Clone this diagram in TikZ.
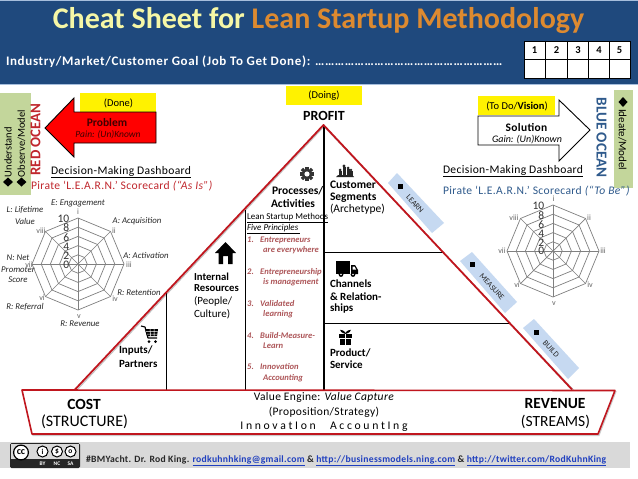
\documentclass[tikz,border=0pt]{standalone}
\usepackage{fontspec}
\setmainfont{Carlito}
\newfontfamily\spaced[LetterSpace=5]{Carlito}
\newfontfamily\wider[LetterSpace=3]{Carlito}
\newcommand{\fsz}[1]{\fontsize{#1}{#1}\selectfont}
\definecolor{hdrblue}{HTML}{1F497D}
\definecolor{hdredge}{HTML}{A6BEDC}
\definecolor{bandblue}{HTML}{C6D9F1}
\definecolor{sagegreen}{HTML}{C3D69B}
\definecolor{redline}{HTML}{C0161E}
\definecolor{scorered}{HTML}{C0272D}
\definecolor{scoreblue}{HTML}{2F5A8C}
\definecolor{princ}{HTML}{AD5558}
\definecolor{titleyellow}{HTML}{F6F7A6}
\definecolor{titleorange}{HTML}{DD8A30}
\definecolor{linkblue}{HTML}{1F3FBF}
\definecolor{footgray}{HTML}{D9D9D9}
\tikzset{
  txt/.style={inner sep=0pt,outer sep=0pt,align=left},
  ctr/.style={inner sep=0pt,outer sep=0pt,align=center},
  axis/.style={draw=black!50,line width=0.7pt},
  chlabel/.style={inner sep=0pt,font=\fsz{8.8}\itshape,text=black!85,align=center},
  roman/.style={inner sep=0pt,font=\fsz{8},text=black!60},
  tick/.style={inner sep=0pt,anchor=east,font=\fsz{11.5},text=black!80},
  princl/.style={inner sep=0pt,anchor=west,font=\fsz{8.6}\itshape\bfseries,text=princ},
  bandtxt/.style={inner sep=0pt,font=\fsz{8},text=black!85},
  yellowbox/.style={fill=yellow,draw=none},
}
\newcommand{\spider}[2]{%
  \foreach \a in {0,45,...,315}{\draw[axis] (#1,#2) -- ++(\a:46 and -46);}
  \foreach \r in {9.2,18.4,27.6,36.8,46}{
    \draw[axis] ($(#1,#2)+(0:\r)$) -- ($(#1,#2)+(45:\r)$) -- ($(#1,#2)+(90:\r)$) -- ($(#1,#2)+(135:\r)$) -- ($(#1,#2)+(180:\r)$) -- ($(#1,#2)+(225:\r)$) -- ($(#1,#2)+(270:\r)$) -- ($(#1,#2)+(315:\r)$) -- cycle;
  }
}
\usetikzlibrary{calc}
\begin{document}
\begin{tikzpicture}[x=1pt,y=-1pt]
\useasboundingbox (0,0) rectangle (638,479);
\fill[white] (0,0) rectangle (638,479);
% header
\fill[hdrblue] (0,0) rectangle (638,84);
\fill[hdredge] (0,0) rectangle (638,1);
\fill[hdredge] (0,84) rectangle (638,85);
\node[ctr,anchor=center,font=\fsz{30}\bfseries] (title) at (318.5,21) {\textcolor{titleyellow}{Cheat Sheet for} \textcolor{titleorange}{Lean Startup Methodology}};
\node[txt,anchor=west,text=white,font=\spaced\fsz{13}\bfseries] (goal) at (6,62) {Industry/Market/Customer Goal (Job To Get Done): \ldots\ldots\ldots\ldots\ldots\ldots\ldots\ldots\ldots\ldots\ldots\ldots\ldots\ldots\ldots\ldots\ldots\ldots\ldots};
% score table
\fill[white] (524,41) rectangle (630,78);
\draw[black,line width=0.9pt] (524,41) rectangle (630,78);
\draw[black,line width=0.9pt] (524,59.5) -- (630,59.5);
\foreach \x in {545.5,567.5,588.5,609.5}{\draw[black,line width=0.9pt] (\x,41) -- (\x,78);}
\node[ctr,font=\fsz{10.5}\bfseries] (n1) at (534.5,50.5) {1};
\node[ctr,font=\fsz{10.5}\bfseries] (n2) at (556.5,50.5) {2};
\node[ctr,font=\fsz{10.5}\bfseries] (n3) at (578,50.5) {3};
\node[ctr,font=\fsz{10.5}\bfseries] (n4) at (599,50.5) {4};
\node[ctr,font=\fsz{10.5}\bfseries] (n5) at (619.5,50.5) {5};
% left strip
\fill[sagegreen] (0,93) rectangle (31,195);
\node[txt,rotate=90,anchor=west,font=\fsz{10.5}] (und) at (8,177) {Understand};
\node[txt,rotate=90,anchor=west,font=\fsz{10.5}] (obs) at (21.5,177) {Observe/Model};
\fill[black] (3,182) -- (8,177.5) -- (13,182) -- (8,186.5) -- cycle;
\fill[black] (16.5,182) -- (21.5,177.5) -- (26.5,182) -- (21.5,186.5) -- cycle;
\node[txt,rotate=90,anchor=west,text=scorered,font=\fsz{14.9}\bfseries] (red) at (35.5,175.5) {RED OCEAN};
% problem arrow
\fill[yellowbox] (80,93) rectangle (156,112);
\draw[black,fill=red,line width=0.9pt] (156,112) -- (74,112) -- (74,98) -- (45,128) -- (74,157) -- (74,143) -- (156,143) -- cycle;
\node[ctr,font=\fsz{10.5}] (done) at (118.5,103) {(Done)};
\node[ctr,font=\fsz{11.5}\bfseries,text=black!75!red] (prob) at (107,122.5) {Problem};
\node[ctr,font=\fsz{9.5}\itshape,text=black!75!red] (pain) at (108,134.5) {Pain: (Un)Known};
% doing
\fill[yellowbox] (286,86) rectangle (362,105);
\node[ctr,font=\fsz{10.5}] (doing) at (324,96) {(Doing)};
\node[ctr,font=\fsz{14}\bfseries] (profit) at (324,116) {PROFIT};
% solution arrow
\draw[black,fill=white,line width=0.9pt] (478,116) -- (559,116) -- (559,100) -- (590,130) -- (559,161) -- (559,145) -- (478,145) -- cycle;
\fill[yellowbox] (478,96) rectangle (555,115);
\node[ctr,font=\fsz{10.5}] (todo) at (517,106.5) {(To Do/\textbf{Vision})};
\node[ctr,font=\wider\fsz{11.5}\bfseries] (sol) at (526.5,127) {Solution};
\node[ctr,font=\fsz{10}\itshape] (gain) at (527,140) {Gain: (Un)Known};
% right strip
\node[txt,rotate=-90,anchor=west,text=scoreblue,font=\fsz{15.2}\bfseries] (blue) at (601.5,97.5) {BLUE OCEAN};
\fill[sagegreen] (614,90) rectangle (633,188);
\fill[black] (623,97) -- (627.5,102) -- (623,107) -- (618.5,102) -- cycle;
\node[txt,rotate=-90,anchor=west,font=\fsz{11}] (ideate) at (622.5,109) {Ideate/Model};
% dashboards
\node[txt,anchor=west,font=\wider\fsz{11.6}] (dl) at (51,172) {\underline{Decision-Making Dashboard}};
\node[txt,anchor=west,text=scorered,font=\wider\fsz{11.6}] (pl) at (31,186) {Pirate ‘L.E.A.R.N.’ Scorecard \textit{(“As Is”)}};
\node[txt,anchor=west,font=\wider\fsz{11.6}] (dr) at (443,171) {\underline{Decision-Making Dashboard}};
\node[txt,anchor=west,text=scoreblue,font=\wider\fsz{11.6}] (pr) at (443,191) {Pirate ‘L.E.A.R.N.’ Scorecard \textit{(“To Be”)}};
% left spider
\spider{78}{264}
\foreach \n/\y/\t in {a/219/10,b/228/8,c/238/6,d/247/4,e/256/2,f/265/0}{\node[tick] (l\n) at (69.5,\y) {\t};}
\node[roman] (li) at (78,212) {i};
\node[roman] (lii) at (114,231) {ii};
\node[roman] (liii) at (129,265) {iii};
\node[roman] (liv) at (115,299) {iv};
\node[roman] (lv) at (79,317) {v};
\node[roman] (lvi) at (42,298) {vi};
\node[roman] (lvii) at (29,265) {vii};
\node[roman] (lviii) at (41,231) {viii};
\node[chlabel] (e1) at (78,203) {E: Engagement};
\node[chlabel] (e2) at (25,210) {L: Lifetime};
\node[chlabel] (e3) at (25,221) {Value};
\node[chlabel] (e4) at (137,221) {A: Acquisition};
\node[chlabel] (e5) at (146,255) {A: Activation};
\node[chlabel] (e6) at (139,292) {R: Retention};
\node[chlabel] (e7) at (80,324) {R: Revenue};
\node[chlabel] (e8) at (25,307) {R: Referral};
\node[chlabel] (e9) at (18,258) {N: Net};
\node[chlabel] (e10) at (18,270) {Promoter};
\node[chlabel] (e11) at (18,280) {Score};
% right spider
\spider{553}{251}
\foreach \n/\y/\t in {a/206/10,b/216/8,c/225/6,d/234/4,e/243/2,f/251/0}{\node[tick] (r\n) at (544.5,\y) {\t};}
\node[roman] (ri) at (553.5,199) {i};
\node[roman] (rii) at (589,218) {ii};
\node[roman] (riii) at (603,251) {iii};
\node[roman] (riv) at (590,285) {iv};
\node[roman] (rv) at (554,304) {v};
\node[roman] (rvi) at (517,285) {vi};
\node[roman] (rvii) at (502,251) {vii};
\node[roman] (rviii) at (514,218) {viii};
% bands
\fill[bandblue] (397,173) -- (444,223) -- (432,233) -- (388,183) -- cycle;
\fill[bandblue] (472,252) -- (517,302) -- (505,313) -- (460,261) -- cycle;
\fill[bandblue] (534,319) -- (579,368) -- (568,379) -- (523,328) -- cycle;
\fill[black] (398,184) rectangle (402.5,188.5);
\fill[black] (470,262) rectangle (474.5,266.5);
\fill[black] (534,330) rectangle (538.5,334.5);
\node[bandtxt,rotate=-47] (learn) at (415,204) {LEARN};
\node[bandtxt,rotate=-47] (measure) at (492,287) {MEASURE};
\node[bandtxt,rotate=-47] (build) at (551,349) {BUILD};
% triangle + inner lines
\draw[black!25,line width=1pt] (76,391) -- (324,126.5) -- (573.5,390);
\draw[black,line width=1.3pt] (324,125) -- (324,391);
\draw[black,line width=0.9pt] (245.5,210) -- (245.5,391);
\draw[black,line width=0.9pt] (166.5,293) -- (166.5,391);
\draw[black,line width=0.9pt] (324,252) -- (443,252);
\draw[black,line width=0.9pt] (324,323) -- (510,323);
\draw[redline,line width=1.8pt,line join=round] (75,389.5) -- (323.5,125) -- (572,389.5);
% bottom trapezoid
\draw[black!20,line width=1pt,fill=black!20] (23,391.5) -- (616,391.5) -- (599,435.5) -- (33,435.5) -- cycle;
\draw[redline,line width=1.6pt,fill=white,line join=round] (22,390) -- (615,390.5) -- (598,434) -- (32,434) -- cycle;
\node[ctr,font=\fsz{15.5}\bfseries] (cost) at (84,404) {COST};
\node[ctr,font=\fsz{16}] (struct) at (84.5,422) {(STRUCTURE)};
\node[ctr,font=\wider\fsz{11.5}] (ve) at (324,397) {Value Engine: \textit{Value Capture}};
\node[ctr,font=\wider\fsz{11.5}] (ps) at (324,412) {(Proposition/Strategy)};
\node[ctr,font=\fsz{11.7}] (ia) at (324,427) {I n n o v a t I o n \quad A c c o u n t I n g};
\node[ctr,font=\fsz{15.5}\bfseries] (rev) at (555,404) {REVENUE};
\node[ctr,font=\fsz{15.5}] (stream) at (555.5,422) {(STREAMS)};
% section text
\node[txt,anchor=west,font=\fsz{11.5}\bfseries] at (272,191) (proc) {Processes/};
\node[txt,anchor=west,font=\fsz{11.5}\bfseries] at (271,203) (act) {Activities};
\node[txt,anchor=west,font=\fsz{11.5}\bfseries] at (330,185) (cust) {Customer};
\node[txt,anchor=west,font=\fsz{11.5}\bfseries] at (330,198) (seg) {Segments};
\node[txt,anchor=west,font=\fsz{11.5}] at (330,209.5) (arch) {(Archetype)};
\node[txt,anchor=west,font=\fsz{11}\bfseries] at (330,283.5) (chan) {Channels};
\node[txt,anchor=west,font=\fsz{11}\bfseries] at (330,296.5) (rel) {\& Relation-};
\node[txt,anchor=west,font=\fsz{11}\bfseries] at (330,309) (ships) {ships};
\node[txt,anchor=west,font=\fsz{11}\bfseries] at (330,352.5) (prodt) {Product/};
\node[txt,anchor=west,font=\fsz{11}\bfseries] at (330,364.5) (serv) {Service};
\node[txt,anchor=west,font=\fsz{10.7}\bfseries] at (194,276.5) (inta) {Internal};
\node[txt,anchor=west,font=\fsz{10.7}\bfseries] at (194,288.5) (intb) {Resources};
\node[txt,anchor=west,font=\fsz{11}] at (194,301.5) (intc) {(People/};
\node[txt,anchor=west,font=\fsz{11}] at (194,314.5) (intd) {Culture)};
\node[txt,anchor=west,font=\fsz{11}\bfseries] at (119,350.5) (inpa) {Inputs/};
\node[txt,anchor=west,font=\fsz{11}\bfseries] at (119,363.5) (inpb) {Partners};
% principles
\node[txt,anchor=west,font=\fsz{9}] at (247,218) (lsm) {\underline{Lean Startup Methods}};
\node[txt,anchor=west,font=\fsz{9}\itshape] at (247,229) (fp) {\underline{Five Principles~}};
\node[princl] at (247,240) (p1) {1.};
\node[princl] at (260,240) (p1a) {Entrepreneurs};
\node[princl] at (263,250.5) (p1b) {are everywhere};
\node[princl] at (247,272) (p2) {2.};
\node[princl] at (260,272) (p2a) {Entrepreneurship};
\node[princl] at (263,282.5) (p2b) {is management};
\node[princl] at (247,304) (p3) {3.};
\node[princl] at (260,304) (p3a) {Validated};
\node[princl] at (263,314.5) (p3b) {learning};
\node[princl] at (247,335.5) (p4) {4.};
\node[princl] at (260,335.5) (p4a) {Build-Measure-};
\node[princl] at (263,346) (p4b) {Learn};
\node[princl] at (247,367) (p5) {5.};
\node[princl] at (260,367) (p5a) {Innovation};
\node[princl] at (263,378) (p5b) {Accounting};
% gear
\begin{scope}[shift={(307,174)}]
\fill[black!80] (0,0) circle (5.6);
\foreach \a in {0,45,...,315}{\fill[black!80,rotate=\a] (-1.6,-5) rectangle (1.6,-7.2);}
\fill[white] (0,0) circle (2.6);
\end{scope}
% people
\begin{scope}[shift={(345,171)}]
\fill[black!85] (-9,6) -- (9,6) -- (7,4) -- (-7,4) -- cycle;
\foreach \x/\t/\r in {-5/-1/1.5,-1/-5/1.7,3/-3/1.5,6/-1/1.3}{
  \fill[black!85] (\x,\t) circle (\r);
  \fill[black!85] (\x-1.5,\t+1) rectangle (\x+1.5,4.5);
}
\end{scope}
% truck
\fill[black] (336,261) rectangle (350,274);
\fill[black] (351,265) -- (355,265) -- (358,270) -- (358,274) -- (351,274) -- cycle;
\fill[white] (352.5,266.5) -- (354.5,266.5) -- (356,269.5) -- (352.5,269.5) -- cycle;
\fill[black] (341,274.5) circle (2.4);\fill[white] (341,274.5) circle (0.9);
\fill[black] (353,274.5) circle (2.4);\fill[white] (353,274.5) circle (0.9);
% gift
\fill[black] (339,334) rectangle (352,338);
\fill[black] (340,339) rectangle (351,345);
\fill[white] (345,334) rectangle (346,345);
\draw[black,line width=1pt] (345.5,333.5) .. controls (341,328) and (338,331) .. (345.5,333.5);
\draw[black,line width=1pt] (345.5,333.5) .. controls (350,328) and (353,331) .. (345.5,333.5);
% house
\fill[black] (225.5,242) -- (236,253) -- (232.5,253) -- (232.5,264) -- (228,264) -- (228,256) -- (223,256) -- (223,264) -- (218.5,264) -- (218.5,253) -- (215,253) -- cycle;
% cart
\draw[black,line width=1.2pt,line join=round] (141,326) -- (145,327) -- (148,338) -- (157,338);
\fill[black] (145,329) -- (158,329) -- (157,336) -- (147,336) -- cycle;
\draw[white,line width=0.5pt] (146,331.5) -- (157.5,331.5) (147,334) -- (157,334) (150,329) -- (150.5,336) (154,329) -- (154,336);
\fill[black] (149,341.5) circle (1.5);
\fill[black] (155.5,341.5) circle (1.5);
% footer
\fill[footgray] (0,442) rectangle (629.5,468);
\fill[black!85] (10,443) [rounded corners=1.5pt] rectangle (80,468);
\fill[black!15] (11,444) rectangle (79,458.5);
\fill[white] (21,452.5) circle (7.4);\draw[black,line width=1.2pt] (21,452.5) circle (7.4);
\foreach \x in {42.5,57,70.5}{\fill[white] (\x,451.5) circle (5.5);\draw[black,line width=1pt] (\x,451.5) circle (5.5);}
\node[ctr,font=\fsz{10}\bfseries] (cc) at (21,452) {cc};
\node[ctr,font=\fsz{7.5}\bfseries] (cci) at (42.5,451.5) {i};
\node[ctr,font=\fsz{7.5}\bfseries] (ccs) at (57,451.5) {\$};
\node[ctr,font=\fsz{7.5}\bfseries] (cco) at (70.5,451.5) {o};
\node[ctr,text=white,font=\fsz{5.5}\bfseries] (by) at (42.5,463.5) {BY};
\node[ctr,text=white,font=\fsz{5.5}\bfseries] (nc) at (57,463.5) {NC};
\node[ctr,text=white,font=\fsz{5.5}\bfseries] (sa) at (70.5,463.5) {SA};
\node[txt,anchor=west,font=\wider\fsz{9.65}\bfseries,text=black!85] (foot) at (86,461) {\#BMYacht. Dr. Rod King. \textcolor{linkblue}{\underline{rodkuhnhking@gmail.com}} \& \textcolor{linkblue}{\underline{http://businessmodels.ning.com}} \& \textcolor{linkblue}{\underline{http://twitter.com/RodKuhnKing}}};
\end{tikzpicture}
\end{document}
